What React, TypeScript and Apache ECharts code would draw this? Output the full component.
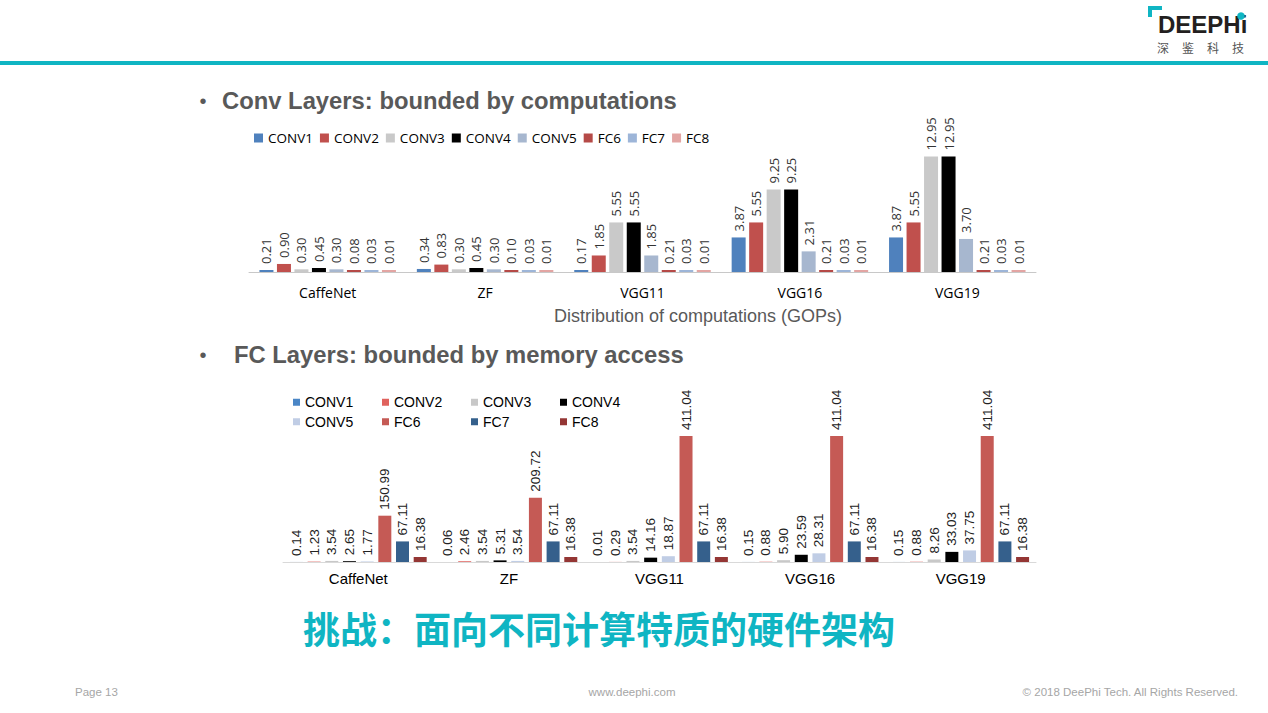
import React, { useEffect, useRef } from "react";
import * as echarts from "echarts";

const categories = ["CaffeNet", "ZF", "VGG11", "VGG16", "VGG19"];
const layers = ["CONV1", "CONV2", "CONV3", "CONV4", "CONV5", "FC6", "FC7", "FC8"];

// Distribution of computations (GOPs)
const gopsConv1 = [0.21, 0.34, 0.17, 3.87, 3.87];
const gopsConv2 = [0.9, 0.83, 1.85, 5.55, 5.55];
const gopsConv3 = [0.3, 0.3, 5.55, 9.25, 12.95];
const gopsConv4 = [0.45, 0.45, 5.55, 9.25, 12.95];
const gopsConv5 = [0.3, 0.3, 1.85, 2.31, 3.7];
const gopsFc6 = [0.08, 0.1, 0.21, 0.21, 0.21];
const gopsFc7 = [0.03, 0.03, 0.03, 0.03, 0.03];
const gopsFc8 = [0.01, 0.01, 0.01, 0.01, 0.01];

// Memory access
const memConv1 = [0.14, 0.06, 0.01, 0.15, 0.15];
const memConv2 = [1.23, 2.46, 0.29, 0.88, 0.88];
const memConv3 = [3.54, 3.54, 3.54, 5.9, 8.26];
const memConv4 = [2.65, 5.31, 14.16, 23.59, 33.03];
const memConv5 = [1.77, 3.54, 18.87, 28.31, 37.75];
const memFc6 = [150.99, 209.72, 411.04, 411.04, 411.04];
const memFc7 = [67.11, 67.11, 67.11, 67.11, 67.11];
const memFc8 = [16.38, 16.38, 16.38, 16.38, 16.38];

const gopsData = [gopsConv1, gopsConv2, gopsConv3, gopsConv4, gopsConv5, gopsFc6, gopsFc7, gopsFc8];
const memData = [memConv1, memConv2, memConv3, memConv4, memConv5, memFc6, memFc7, memFc8];

const topColors = ["#4f81bd", "#c0504d", "#c9c9c9", "#000000", "#a7b7cf", "#b54a47", "#9db5d8", "#e3a5a3"];
const bottomColors = ["#4a86c6", "#e0625d", "#c8c8c8", "#000000", "#c0cde5", "#c55a55", "#35608c", "#943634"];

const TEAL = "#0fb5c3";
const GRAY = "#595959";

export default function App() {
  const ref = useRef<HTMLDivElement>(null);

  useEffect(() => {
    if (!ref.current) return;
    const chart = echarts.init(ref.current, null, { renderer: "svg" });

    const topSeries = layers.map((l, i) => ({
      name: "A:" + l,
      type: "bar",
      xAxisIndex: 0,
      yAxisIndex: 0,
      data: gopsData[i],
      barWidth: 14,
      barGap: "25%",
      barMinHeight: 2,
      itemStyle: { color: topColors[i] },
      label: {
        show: true,
        position: "top",
        rotate: 90,
        align: "left",
        verticalAlign: "middle",
        distance: 6,
        fontFamily: "Open Sans",
        fontSize: 13,
        color: "#333",
        formatter: (p: any) => Number(p.value).toFixed(2),
      },
    }));

    const bottomSeries = layers.map((l, i) => ({
      name: "B:" + l,
      type: "bar",
      xAxisIndex: 1,
      yAxisIndex: 1,
      data: memData[i],
      barWidth: 13,
      barGap: "36%",
      itemStyle: { color: bottomColors[i] },
      label: {
        show: true,
        position: "top",
        rotate: 90,
        align: "left",
        verticalAlign: "middle",
        distance: 6,
        fontFamily: "Liberation Sans",
        fontSize: 13.5,
        color: "#222",
        formatter: (p: any) => Number(p.value).toFixed(2),
      },
    }));

    const txt = (text: string, x: number, y: number, extra: any = {}) => ({
      type: "text",
      x,
      y,
      silent: true,
      style: {
        text,
        fill: GRAY,
        fontFamily: "Liberation Sans",
        fontSize: 14,
        align: "left",
        verticalAlign: "middle",
        ...extra,
      },
    });

    chart.setOption({
      animation: false,
      backgroundColor: "#ffffff",
      grid: [
        { left: 249, right: 232, top: 147, bottom: 441, containLabel: false },
        { left: 283, right: 232, top: 424, bottom: 151, containLabel: false },
      ],
      xAxis: [
        {
          type: "category",
          gridIndex: 0,
          data: categories,
          axisLine: { lineStyle: { color: "#c8c8c8", width: 1 } },
          axisTick: { show: false },
          axisLabel: { fontFamily: "Open Sans", fontSize: 14, color: "#000", margin: 13 },
        },
        {
          type: "category",
          gridIndex: 1,
          data: categories,
          axisLine: { lineStyle: { color: "#d9d9d9", width: 1 } },
          axisTick: { show: false },
          axisLabel: { fontFamily: "Liberation Sans", fontSize: 15, color: "#000", margin: 9 },
        },
      ],
      yAxis: [
        { type: "value", gridIndex: 0, min: 0, max: 14, show: false, splitLine: { show: false } },
        { type: "value", gridIndex: 1, min: 0, max: 450, show: false, splitLine: { show: false } },
      ],
      legend: [
        {
          data: layers.map((l) => "A:" + l),
          formatter: (n: string) => n.slice(2),
          left: 254,
          top: 131,
          padding: 0,
          itemWidth: 9,
          itemHeight: 9,
          itemGap: 7,
          icon: "rect",
          selectedMode: false,
          textStyle: { fontFamily: "Open Sans", fontSize: 13.5, color: "#000" },
        },
        {
          data: layers.map((l) => "B:" + l),
          formatter: (n: string) => n.slice(2),
          left: 293,
          top: 395,
          width: 360,
          padding: 0,
          itemWidth: 7,
          itemHeight: 7,
          itemGap: 5,
          icon: "rect",
          selectedMode: false,
          textStyle: {
            fontFamily: "Liberation Sans",
            fontSize: 14,
            color: "#000",
            width: 72,
            lineHeight: 14.5,
            overflow: "none",
          },
        },
      ],
      series: [...topSeries, ...bottomSeries],
      graphic: [
        { type: "rect", shape: { x: 0, y: 61, width: 1268, height: 4 }, style: { fill: TEAL }, silent: true },
        // logo
        { type: "rect", shape: { x: 1148, y: 6, width: 4, height: 11 }, style: { fill: TEAL }, silent: true },
        { type: "rect", shape: { x: 1148, y: 6, width: 14, height: 4 }, style: { fill: TEAL }, silent: true },
        txt("DEEPHi", 1158, 24, { fontSize: 24, fontWeight: "bold", fill: "#231f20" }),
        { type: "circle", shape: { cx: 1241, cy: 16, r: 3.8 }, style: { fill: TEAL }, silent: true, z: 100 },
        txt("深", 1163, 47, { fontSize: 12, align: "center", fill: "#555", fontFamily: "Noto Sans CJK SC" }),
        txt("鉴", 1188, 47, { fontSize: 12, align: "center", fill: "#555", fontFamily: "Noto Sans CJK SC" }),
        txt("科", 1213, 47, { fontSize: 12, align: "center", fill: "#555", fontFamily: "Noto Sans CJK SC" }),
        txt("技", 1238, 47, { fontSize: 12, align: "center", fill: "#555", fontFamily: "Noto Sans CJK SC" }),
        // bullets
        txt("•", 203, 101, { fontSize: 20, align: "center" }),
        txt("Conv Layers: bounded by computations", 222, 100, { fontSize: 23.8, fontWeight: "bold" }),
        txt("•", 203, 355, { fontSize: 20, align: "center" }),
        txt("FC Layers: bounded by memory access", 234, 354, { fontSize: 23.8, fontWeight: "bold" }),
        txt("Distribution of computations (GOPs)", 698, 316, { fontSize: 18, align: "center" }),
        txt("挑战：面向不同计算特质的硬件架构", 599, 628, {
          fontSize: 37,
          fontWeight: "bold",
          align: "center",
          fill: TEAL,
          fontFamily: "Noto Sans CJK SC",
        }),
        // footer
        txt("Page 13", 75, 692, { fontSize: 11.5, fill: "#a6a6a6" }),
        txt("www.deephi.com", 632, 692, { fontSize: 11.5, fill: "#a6a6a6", align: "center" }),
        txt("© 2018 DeePhi Tech. All Rights Reserved.", 1238, 692, { fontSize: 11.5, fill: "#a6a6a6", align: "right" }),
      ],
    });

    return () => chart.dispose();
  }, []);

  return (
    <div
      ref={ref}
      style={{ position: "fixed", left: 0, top: 0, width: 1268, height: 713, background: "#fff" }}
    />
  );
}
